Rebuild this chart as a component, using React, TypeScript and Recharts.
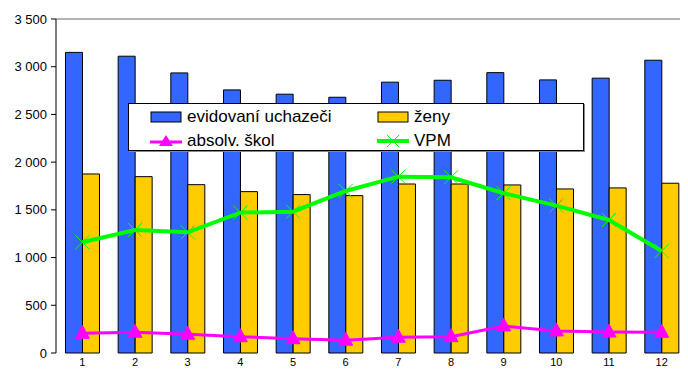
import React from "react";
import {
  ComposedChart,
  Bar,
  Line,
  XAxis,
  YAxis,
  ReferenceLine,
} from "recharts";

const months = ["1", "2", "3", "4", "5", "6", "7", "8", "9", "10", "11", "12"];
const evidovani = [3150, 3110, 2935, 2757, 2712, 2680, 2838, 2858, 2938, 2862, 2880, 3068];
const zeny = [1876, 1848, 1764, 1691, 1660, 1649, 1771, 1771, 1761, 1719, 1730, 1779];
const absolv = [206, 217, 196, 171, 150, 134, 165, 171, 283, 231, 220, 217];
const vpm = [1160, 1289, 1265, 1471, 1481, 1698, 1848, 1842, 1674, 1544, 1394, 1069];
const yTicks = [0, 500, 1000, 1500, 2000, 2500, 3000, 3500];
const boundaryTicks = [0, 1, 2, 3, 4, 5, 6, 7, 8, 9, 10, 11, 12];

const BLUE = "#3366FF";
const YELLOW = "#FFCC00";
const MAGENTA = "#FF00FF";
const GREEN = "#00FF00";
const FONT = '"Liberation Sans", Arial, sans-serif';

const data = months.map((m, i) => ({
  m,
  evidovani: evidovani[i],
  zeny: zeny[i],
  absolv: absolv[i],
  vpm: vpm[i],
}));

const fmt = (v: number) => String(v).replace(/\B(?=(\d{3})+(?!\d))/g, " ");

const Triangle = (props: any) => {
  const { cx, cy } = props;
  if (cx == null || cy == null) return null;
  return (
    <polygon
      points={`${cx},${cy - 8} ${cx - 7},${cy + 5} ${cx + 7},${cy + 5}`}
      fill={MAGENTA}
      stroke={MAGENTA}
    />
  );
};

const Cross = (props: any) => {
  const { cx, cy } = props;
  if (cx == null || cy == null) return null;
  return (
    <g stroke={GREEN} strokeWidth={1}>
      <line x1={cx - 7} y1={cy - 7} x2={cx + 7} y2={cy + 7} />
      <line x1={cx - 7} y1={cy + 7} x2={cx + 7} y2={cy - 7} />
    </g>
  );
};

function LegendBox() {
  const row = { display: "flex", alignItems: "center", height: 24 };
  const item = (swatch: React.ReactNode, label: string, w: number) => (
    <div style={{ display: "flex", alignItems: "center", width: w }}>
      {swatch}
      <span style={{ marginLeft: 5 }}>{label}</span>
    </div>
  );
  const rect = (color: string) => (
    <svg width={32} height={14}>
      <rect x={1} y={2} width={30} height={10} fill={color} stroke="#000" />
    </svg>
  );
  const tri = (
    <svg width={32} height={16}>
      <line x1={0} y1={9} x2={32} y2={9} stroke={MAGENTA} strokeWidth={3} />
      <polygon points="16,2 9,13 23,13" fill={MAGENTA} />
    </svg>
  );
  const cross = (
    <svg width={32} height={16}>
      <line x1={0} y1={8} x2={32} y2={8} stroke={GREEN} strokeWidth={4} />
      <line x1={10} y1={2} x2={22} y2={14} stroke={GREEN} />
      <line x1={10} y1={14} x2={22} y2={2} stroke={GREEN} />
    </svg>
  );
  return (
    <div
      style={{
        position: "absolute",
        left: 120,
        top: 95,
        width: 456,
        height: 48,
        background: "#fff",
        border: "1px solid #000",
        boxShadow: "1px 1px 0 #888",
        fontFamily: FONT,
        fontSize: 17,
        color: "#000",
        paddingLeft: 21,
        boxSizing: "border-box",
        paddingTop: 1,
      }}
    >
      <div style={row}>
        {item(rect(BLUE), "evidovaní uchazeči", 227)}
        {item(rect(YELLOW), "ženy", 150)}
      </div>
      <div style={row}>
        {item(tri, "absolv. škol", 227)}
        {item(cross, "VPM", 150)}
      </div>
    </div>
  );
}

export default function App() {
  return (
    <div style={{ position: "relative", width: 680, height: 368 }}>
      <ComposedChart
        width={680}
        height={368}
        data={data}
        margin={{ top: 11, right: 0, bottom: 3, left: 0 }}
        barCategoryGap="18%"
        barGap={0}
      >
        <ReferenceLine y={3500} stroke="#999" strokeWidth={1.5} />
        <XAxis
          xAxisId="b"
          type="number"
          domain={[0, 12]}
          ticks={boundaryTicks}
          allowDataOverflow
          height={0}
          tickSize={5}
          tickFormatter={() => ""}
          axisLine={{ stroke: "#000" }}
          tickLine={{ stroke: "#000" }}
        />
        <XAxis
          dataKey="m"
          height={20}
          axisLine={false}
          tickLine={false}
          tickSize={0}
          tickMargin={5}
          interval={0}
          tick={{ fill: "#000", fontSize: 11, fontFamily: FONT }}
        />
        <YAxis
          width={48}
          domain={[0, 3500]}
          ticks={yTicks}
          interval={0}
          tickFormatter={fmt}
          axisLine={{ stroke: "#000" }}
          tickLine={{ stroke: "#000" }}
          tickSize={5}
          tickMargin={4}
          tick={{ fill: "#000", fontSize: 13, fontFamily: FONT }}
        />
        <Bar dataKey="evidovani" fill={BLUE} stroke="#000" strokeWidth={1} isAnimationActive={false} />
        <Bar dataKey="zeny" fill={YELLOW} stroke="#000" strokeWidth={1} isAnimationActive={false} />
        <Line
          dataKey="absolv"
          stroke={MAGENTA}
          strokeWidth={3}
          dot={<Triangle />}
          activeDot={false}
          isAnimationActive={false}
        />
        <Line
          dataKey="vpm"
          stroke={GREEN}
          strokeWidth={4}
          dot={<Cross />}
          activeDot={false}
          isAnimationActive={false}
        />
      </ComposedChart>
      <LegendBox />
    </div>
  );
}
